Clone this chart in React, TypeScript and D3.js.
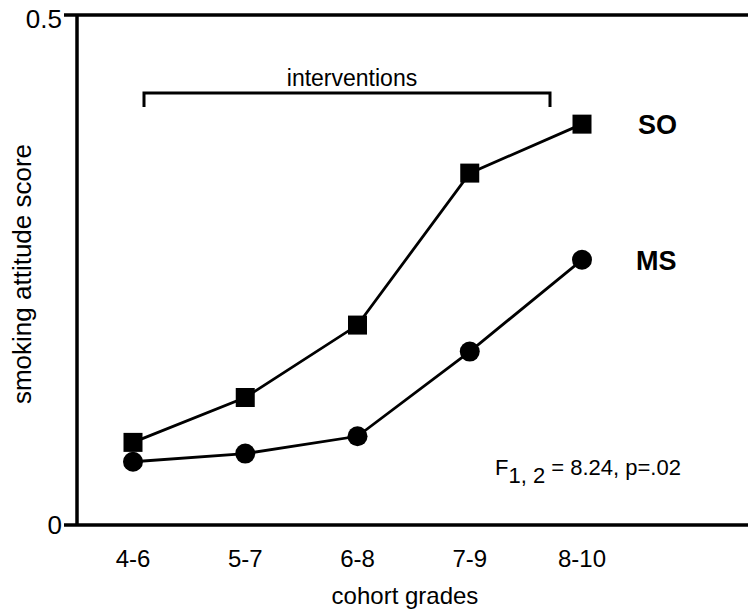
import { line, scaleLinear, scalePoint } from 'd3'

const grades = ['4-6', '5-7', '6-8', '7-9', '8-10']
const soScores = [0.081, 0.125, 0.196, 0.345, 0.393]
const msScores = [0.062, 0.07, 0.087, 0.17, 0.26]
const yTicks = [0, 0.5]

const W = 748
const H = 613
const font = '"Liberation Sans", Arial, sans-serif'

export default function App() {
  // plot frame
  const left = 77
  const top = 15
  const bottom = 525

  const x = scalePoint<string>().domain(grades).range([133, 582])
  const y = scaleLinear().domain([0, 0.5]).range([bottom, top])

  const path = line<number>()
    .x((_, i) => x(grades[i]) as number)
    .y((d) => y(d))

  return (
    <svg
      width={W}
      height={H}
      style={{ position: 'absolute', left: 0, top: 0, background: '#fff' }}
      fontFamily={font}
    >
      {/* axes */}
      <line x1={left} x2={left} y1={top} y2={bottom} stroke="#000" strokeWidth={3.5} />
      <line x1={left - 13} x2={W} y1={y(0)} y2={y(0)} stroke="#000" strokeWidth={3.5} />
      <line x1={left - 13} x2={W} y1={y(0.5)} y2={y(0.5)} stroke="#000" strokeWidth={3.5} />
      {yTicks.map((t) => (
        <text key={t} x={left - 15} y={y(t) + (t === 0 ? 9 : 13)} fontSize={26} textAnchor="end">
          {String(t)}
        </text>
      ))}
      {grades.map((g) => (
        <text key={g} x={x(g)} y={567} fontSize={24} textAnchor="middle">
          {g}
        </text>
      ))}
      <text x={405} y={604} fontSize={24} textAnchor="middle">
        cohort grades
      </text>
      <text
        transform={`translate(31, 274) rotate(-90)`}
        fontSize={26}
        textAnchor="middle"
      >
        smoking attitude score
      </text>

      {/* interventions bracket */}
      <path d="M144,107 V93 H550 V107" fill="none" stroke="#000" strokeWidth={3} />
      <text x={352} y={86} fontSize={23} textAnchor="middle">
        interventions
      </text>

      {/* series */}
      <path d={path(soScores) ?? ''} fill="none" stroke="#000" strokeWidth={2.8} />
      <path d={path(msScores) ?? ''} fill="none" stroke="#000" strokeWidth={2.8} />
      {soScores.map((v, i) => (
        <rect key={'so' + i} x={(x(grades[i]) as number) - 9.5} y={y(v) - 9.5} width={19} height={19} fill="#000" />
      ))}
      {msScores.map((v, i) => (
        <circle key={'ms' + i} cx={x(grades[i]) as number} cy={y(v)} r={10} fill="#000" />
      ))}
      <text x={638} y={y(soScores[4]) + 10} fontSize={27} fontWeight="bold">
        SO
      </text>
      <text x={636} y={y(msScores[4]) + 10} fontSize={27} fontWeight="bold">
        MS
      </text>

      {/* stats */}
      <text x={495} y={475} fontSize={22}>
        F
        <tspan dy={8}>1, 2</tspan>
        <tspan dy={-8}> = 8.24, p=.02</tspan>
      </text>
    </svg>
  )
}
